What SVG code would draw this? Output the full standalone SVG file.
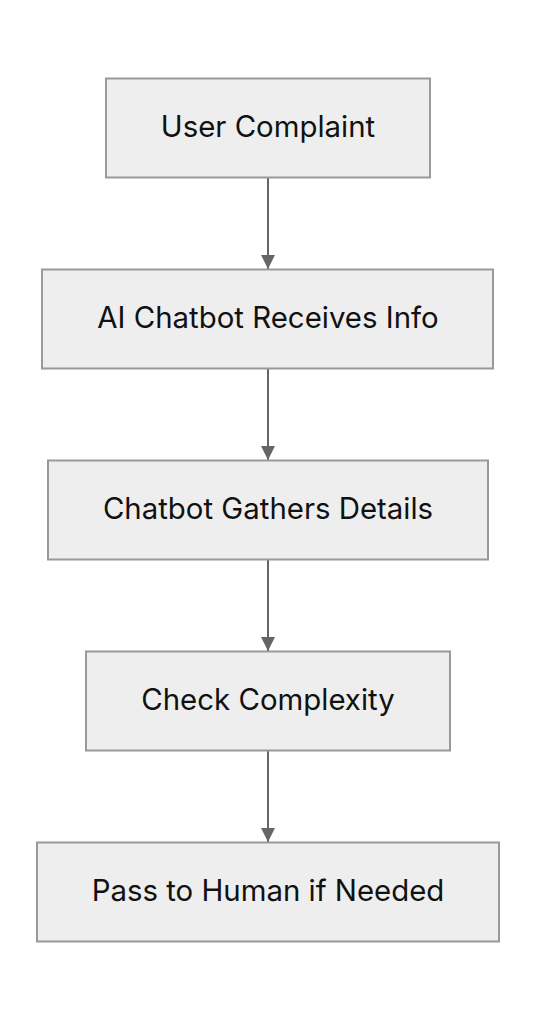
<svg xmlns="http://www.w3.org/2000/svg" width="536" height="1020" viewBox="0 0 536 1020">
<style>
.box{fill:#eeeeee;stroke:#999999;stroke-width:2}
.lbl{font-family:Inter,"Liberation Sans",sans-serif;font-size:29.4px;fill:#111111;text-anchor:middle;dominant-baseline:central}
.edge{stroke:#666666;stroke-width:2;fill:none;marker-end:url(#arr)}
</style>
<defs>
<marker id="arr" markerUnits="userSpaceOnUse" markerWidth="14" markerHeight="14" refX="14" refY="7" orient="auto">
<path d="M0,0 L14,7 L0,14 z" fill="#666666"/>
</marker>
</defs>
<rect width="536" height="1020" fill="#ffffff"/>
<g id="connectors">
<path class="edge" d="M268,178 L268,269"/>
<path class="edge" d="M268,369 L268,460"/>
<path class="edge" d="M268,560 L268,651"/>
<path class="edge" d="M268,751 L268,842"/>
</g>
<g id="n1"><rect class="box" x="106" y="78.5" width="324" height="99"/><text class="lbl" x="268" y="126.5">User Complaint</text></g>
<g id="n2"><rect class="box" x="42" y="269.5" width="451" height="99"/><text class="lbl" x="268" y="317.5">AI Chatbot Receives Info</text></g>
<g id="n3"><rect class="box" x="48" y="460.5" width="440" height="99"/><text class="lbl" x="268" y="508.5">Chatbot Gathers Details</text></g>
<g id="n4"><rect class="box" x="86" y="651.5" width="364" height="99"/><text class="lbl" x="268" y="699.5">Check Complexity</text></g>
<g id="n5"><rect class="box" x="37" y="842.5" width="462" height="99"/><text class="lbl" x="268" y="890.5">Pass to Human if Needed</text></g>
</svg>
